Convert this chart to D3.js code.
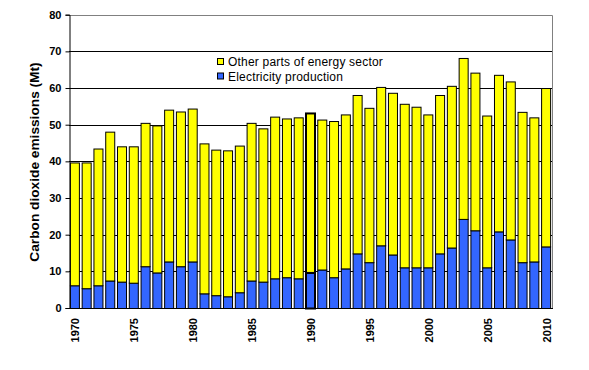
<!DOCTYPE html>
<html>
<head>
<meta charset="utf-8">
<script src="https://cdn.jsdelivr.net/npm/d3@7"></script>
<style>
  body { margin: 0; background: #fff; }
  text { font-family: Arial, "Liberation Sans", sans-serif; }
</style>
</head>
<body>
<div id="chart"></div>
<script>
// data
const years = d3.range(1970, 2011);
const electricity = [6.2, 5.4, 6.2, 7.5, 7.2, 6.9, 11.4, 9.7, 12.7, 11.4, 12.7,
    4.0, 3.5, 3.2, 4.3, 7.5, 7.2, 8.1, 8.4, 8.1, 9.7,
    10.5, 8.4, 10.8, 14.9, 12.5, 17.1, 14.6, 11.1, 11.1, 11.1,
    14.9, 16.5, 24.3, 21.2, 11.1, 20.9, 18.7, 12.5, 12.7, 16.8];
const totals = [39.7, 39.7, 43.5, 48.1, 44.1, 44.1, 50.5, 49.8, 54.1, 53.6, 54.4,
    44.9, 43.2, 43.0, 44.3, 50.5, 49.0, 52.2, 51.7, 52.0, 53.2,
    51.4, 51.0, 52.8, 58.1, 54.6, 60.3, 58.7, 55.7, 54.9, 52.8,
    58.1, 60.6, 68.2, 64.2, 52.5, 63.6, 61.8, 53.5, 52.0, 60.0];
const other = totals.map((t, i) => +(t - electricity[i]).toFixed(1));
const yTicks = [0, 10, 20, 30, 40, 50, 60, 70, 80];
const xLabels = [1970, 1975, 1980, 1985, 1990, 1995, 2000, 2005, 2010];
const seriesNames = ['Other parts of energy sector', 'Electricity production'];

// dimensions
const w = 589;
const h = 370;
const plotLeft = 69, plotRight = 552, plotTop = 14.7, plotBottom = 308;

const svg = d3.select('#chart')
    .append('svg')
    .attr('width', w)
    .attr('height', h);

const x_scale = d3.scaleBand()
    .domain(years)
    .range([plotLeft, plotRight])
    .paddingInner(0.15)
    .paddingOuter(0.075);

const y_scale = d3.scaleLinear()
    .domain([0, 80])
    .range([plotBottom, plotTop]);

// gridlines
svg.append('g')
    .selectAll('line')
    .data(yTicks.filter(d => d > 0 && d < 80))
    .enter()
    .append('line')
    .attr('x1', plotLeft)
    .attr('x2', plotRight)
    .attr('y1', d => Math.round(y_scale(d)) + 0.5)
    .attr('y2', d => Math.round(y_scale(d)) + 0.5)
    .attr('stroke', '#000')
    .attr('stroke-width', 1);

// border (top and right in grey)
svg.append('path')
    .attr('d', `M${plotLeft},${Math.round(plotTop) + 0.5}H${plotRight + 0.5}V${plotBottom}`)
    .attr('fill', 'none')
    .attr('stroke', '#808080');

// stacked bars
const table = years.map((yr, i) => ({ year: yr, electricity: electricity[i], other: other[i] }));
const stack = d3.stack().keys(['electricity', 'other'])(table);
const colors = { electricity: '#3366ff', other: '#ffff00' };

svg.append('g')
    .selectAll('g')
    .data(stack)
    .enter()
    .append('g')
    .attr('fill', d => colors[d.key])
    .selectAll('rect')
    .data(d => d)
    .enter()
    .append('rect')
    .attr('x', d => x_scale(d.data.year) + 0.5)
    .attr('y', d => y_scale(d[1]) + 0.5)
    .attr('width', x_scale.bandwidth() - 1)
    .attr('height', d => y_scale(d[0]) - y_scale(d[1]))
    .attr('stroke', '#000')
    .attr('stroke-width', d => d.data.year === 1990 ? 2 : 1);

// y axis
const y_axis = svg.append('g')
    .attr('transform', `translate(${plotLeft + 0.5}, 0)`)
    .call(d3.axisLeft(y_scale).tickValues(yTicks).tickSize(4).tickPadding(4));
y_axis.select('.domain').attr('stroke', '#000');
y_axis.selectAll('text')
    .style('font-size', '11px')
    .style('font-weight', 'bold')
    .attr('fill', '#000');

// x axis
svg.append('line')
    .attr('x1', plotLeft)
    .attr('x2', plotRight + 1)
    .attr('y1', plotBottom + 0.5)
    .attr('y2', plotBottom + 0.5)
    .attr('stroke', '#000');

svg.append('g')
    .selectAll('text')
    .data(xLabels)
    .enter()
    .append('text')
    .attr('transform', d => `translate(${x_scale(d) + x_scale.bandwidth() / 2 + 4.5}, ${plotBottom + 10}) rotate(-90)`)
    .attr('text-anchor', 'end')
    .style('font-size', '11px')
    .style('font-weight', 'bold')
    .text(d => d);

// y title
svg.append('text')
    .attr('transform', `translate(39, 162) rotate(-90)`)
    .attr('text-anchor', 'middle')
    .style('font-size', '13.7px')
    .style('font-weight', 'bold')
    .text('Carbon dioxide emissions (Mt)');

// legend
const legend = svg.append('g')
    .selectAll('g')
    .data(seriesNames)
    .enter()
    .append('g')
    .attr('transform', (d, i) => `translate(217, ${58 + i * 14.5})`);

legend.append('rect')
    .attr('x', 0.5)
    .attr('y', 0.5)
    .attr('width', 6)
    .attr('height', 6)
    .attr('fill', (d, i) => i === 0 ? colors.other : colors.electricity)
    .attr('stroke', '#000');

legend.append('text')
    .attr('x', 11)
    .attr('y', 8)
    .style('font-size', '12px')
    .style('letter-spacing', '0.2px')
    .text(d => d);
</script>
</body>
</html>
